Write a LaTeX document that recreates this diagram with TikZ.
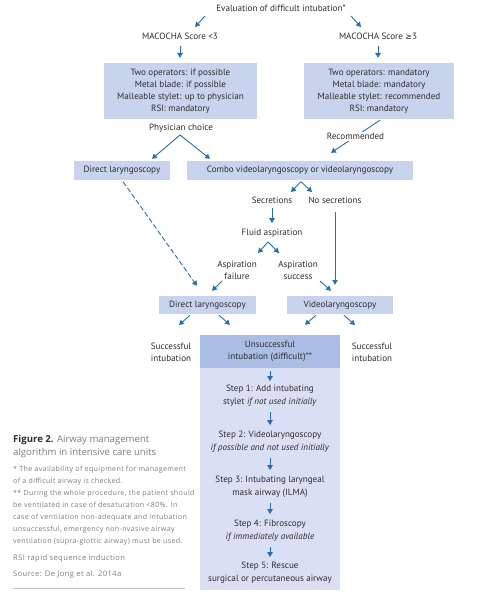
\documentclass[tikz,border=0pt]{standalone}
\usepackage{fontspec}
\setmainfont{PT Sans}
\newfontfamily\notefont{Open Sans}
\newfontfamily\notefontls[LetterSpace=5]{Open Sans}
\newfontfamily\symfont{DejaVu Sans}
\usetikzlibrary{arrows.meta}
\definecolor{arrblue}{RGB}{40,110,180}
\definecolor{boxblue}{RGB}{200,211,238}
\definecolor{darkbox}{RGB}{170,189,228}
\definecolor{stepbg}{RGB}{217,224,243}
\definecolor{notegray}{RGB}{125,125,125}
\definecolor{txtcol}{RGB}{45,45,45}
\begin{document}
\begin{tikzpicture}[x=1pt,y=-1pt,
  txt/.style={font=\fontsize{9.1}{12}\selectfont, align=center, inner sep=0pt, text=txtcol},
  steptxt/.style={txt, font=\fontsize{9.1}{13}\selectfont},
  arr/.style={draw=arrblue, line width=0.9pt, -{Triangle[length=4.8pt,width=5.4pt]}},
  bluebox/.style={txt, fill=boxblue, draw=none},
  note/.style={font=\notefontls\fontsize{7.1}{12}\selectfont, align=left, inner sep=0pt, text=notegray, anchor=north west},
]
\useasboundingbox[fill=white] (0,0) rectangle (498,601);

% top
\node[txt] (eval) at (281,8) {Evaluation of difficult intubation*};
\node[txt] (mac1) at (180,36) {MACOCHA Score <3};
\node[txt] (mac2) at (378,36) {MACOCHA Score {\symfont\fontsize{8}{12}\selectfont ≥}3};
\node[bluebox, minimum width=153pt, minimum height=56pt] (box1) at (180.5,91)
  {Two operators: if possible\\Metal blade: if possible\\Malleable stylet: up to physician\\RSI: mandatory};
\node[bluebox, minimum width=150pt, minimum height=56pt] (box2) at (379,91)
  {Two operators: mandatory\\Metal blade: mandatory\\Malleable stylet: recommended\\RSI: mandatory};
\node[txt] (phys) at (181,128) {Physician choice};
\node[bluebox, minimum width=96pt, minimum height=19pt] (dl1) at (122,170.5) {Direct laryngoscopy};
\node[bluebox, minimum width=226pt, minimum height=19pt] (combo) at (300,170.5) {Combo videolaryngoscopy or videolaryngoscopy};
\node[txt] (secr) at (272,200) {Secretions};
\node[txt] (nosec) at (335,200) {No secretions};
\node[txt] (fluid) at (272,233) {Fluid aspiration};
\node[txt, font=\fontsize{9.1}{11.5}\selectfont] (fail) at (237,270.5) {Aspiration\\failure};
\node[txt, font=\fontsize{9.1}{11.5}\selectfont] (succ) at (298,270.5) {Aspiration\\success};
\node[bluebox, minimum width=97pt, minimum height=18pt] (dl2) at (207.5,305) {Direct laryngoscopy};
\node[bluebox, minimum width=106pt, minimum height=18pt] (video) at (340,305) {Videolaryngoscopy};
\node[txt] (sl) at (171,352) {Successful\\intubation};
\node[txt] (sr) at (372,352) {Successful\\intubation};

% steps panel
\node[fill=stepbg, draw=none, minimum width=140pt, minimum height=222pt, inner sep=0pt] (steps) at (270,479) {};
\node[txt, fill=darkbox, minimum width=140pt, minimum height=33pt] (unsucc) at (270,351.5) {Unsuccessful\\intubation (difficult)**};
\node[steptxt] (s1) at (270,396) {Step 1: Add intubating\\stylet \textit{if not used initially}};
\node[steptxt] (s2) at (270,442) {Step 2: Videolaryngoscopy\\\textit{if possible and not used initially}};
\node[steptxt] (s3) at (270,487) {Step 3: Intubating laryngeal\\mask airway (ILMA)};
\node[steptxt] (s4) at (270,531) {Step 4: Fibroscopy\\\textit{if immediately available}};
\node[steptxt] (s5) at (270,573) {Step 5: Rescue\\surgical or percutaneous airway};

% arrows
\draw[arr] ([shift={(-76,8)}]eval.center) -- ([shift={(15,-9)}]mac1.center);
\draw[arr] ([shift={(70,8)}]eval.center) -- ([shift={(-17,-9)}]mac2.center);
\draw[arr] ([shift={(0,10)}]mac1.center) -- ([shift={(-0.5,-5)}]box1.north);
\draw[arr] ([shift={(0,10)}]mac2.center) -- ([shift={(-1,-5)}]box2.north);
\draw[arr] ([shift={(-1,7)}]phys.center) -- ([shift={(30,-2)}]dl1.north);
\draw[arr] ([shift={(-1,7)}]phys.center) -- ([shift={(-90,-2)}]combo.north);
\draw[arr] ([shift={(1,1)}]box2.south) -- node[txt, fill=white, inner sep=1.5pt] (rec) {Recommended} ([shift={(31,-8)}]combo.north);
\draw[arr] ([shift={(1,1.5)}]combo.south) -- ([shift={(19,-8)}]secr.center);
\draw[arr] ([shift={(1,1.5)}]combo.south) -- ([shift={(-23,-8)}]nosec.center);
\draw[arr] ([shift={(0,8)}]secr.center) -- ([shift={(0,-10)}]fluid.center);
\draw[arr] ([shift={(-4,9)}]fluid.center) -- ([shift={(21,-17.5)}]fail.center);
\draw[arr] ([shift={(-4,9)}]fluid.center) -- ([shift={(-19,-17.5)}]succ.center);
\draw[arr] ([shift={(-15,10.5)}]fail.center) -- ([shift={(4.5,-5)}]dl2.north);
\draw[arr] ([shift={(22,10.5)}]succ.center) -- ([shift={(-9,-5)}]video.north);
\draw[arr] ([shift={(0,12)}]nosec.center) -- ([shift={(-5,-11)}]video.north);
\draw[arr, dash pattern=on 5pt off 2.5pt] ([shift={(1,1.5)}]dl1.south) -- ([shift={(-10.5,-10)}]dl2.north);
\draw[arr] ([shift={(-17.5,1)}]dl2.south) -- ([shift={(8,-27)}]sl.center);
\draw[arr] ([shift={(11.5,1)}]dl2.south) -- ([shift={(-40,-10)}]unsucc.north);
\draw[arr] ([shift={(-24,1)}]video.south) -- ([shift={(35,-10)}]unsucc.north);
\draw[arr] ([shift={(4,1)}]video.south) -- ([shift={(-17,-27)}]sr.center);
\draw[arr] ([shift={(0,3)}]unsucc.south) -- ([shift={(0,-15)}]s1.center);
\draw[arr] ([shift={(0,16)}]s1.center) -- ([shift={(0,-17)}]s2.center);
\draw[arr] ([shift={(0,16)}]s2.center) -- ([shift={(0,-17)}]s3.center);
\draw[arr] ([shift={(0,16)}]s3.center) -- ([shift={(0,-17)}]s4.center);
\draw[arr] ([shift={(0,16)}]s4.center) -- ([shift={(0,-16)}]s5.center);

% caption and notes
\node[note, font=\notefont\fontsize{9.6}{13}\selectfont, text=notegray] (cap) at (13,435.5)
  {{\color{txtcol}\bfseries Figure 2.} Airway management\\algorithm in intensive care units};
\node[note] (notes) at (13,466)
  {* The availability of equipment for management\\
   of a difficult airway is checked.\\
   ** During the whole procedure, the patient should\\
   be ventilated in case of desaturation <80\%. In\\
   case of ventilation non-adequate and intubation\\
   unsuccessful, emergency non-nvasive airway\\
   ventilation (supra-glottic airway) must be used.};
\node[note, font=\notefontls\fontsize{7.6}{12}\selectfont] (rsi) at (13,555) {RSI rapid sequence induction};
\node[note, font=\notefontls\fontsize{7.6}{12}\selectfont] (src) at (13,571) {Source: De Jong et al. 2014a};
\draw[black!25, line width=0.8pt] (13,588) -- (185,588);
\end{tikzpicture}
\end{document}
